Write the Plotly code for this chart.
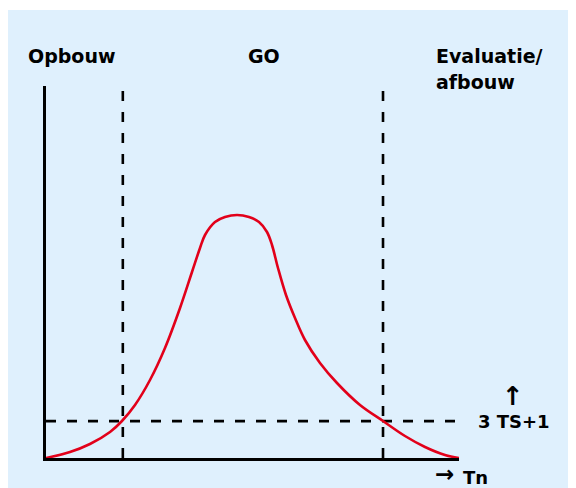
import plotly.graph_objects as go

# ---- data ----
time_x = [0, 5.81, 10.65, 15.50, 18.40, 21.55, 25.18, 28.81, 32.45, 35.35, 37.29, 38.50,
          40.92, 43.34, 46.25, 49.15, 51.57, 53.51, 54.72, 56.17, 58.11, 60.29, 62.71,
          66.34, 70.46, 76.03, 81.60, 86.92, 91.77, 96.61, 100]
intensity_y = [0, 1.61, 3.76, 6.99, 9.95, 14.25, 20.97, 29.57, 40.32, 50.00, 56.45, 59.95,
               63.44, 64.78, 65.32, 64.78, 63.44, 60.75, 57.26, 51.08, 43.82, 37.63, 31.72,
               25.54, 20.16, 14.25, 9.95, 5.91, 2.96, 0.81, 0]
phase_bounds = [18.6, 81.6]
threshold = 9.9
phase_labels = ["Opbouw", "GO", "Evaluatie/", "afbouw"]
threshold_label = "3 TS+1"
x_label = "Tn"

OFF = 8  # page body margin
W, H = 576 - OFF, 488 - OFF
L, R, T, B = 46 - OFF, 459 - OFF, 86 - OFF, 458 - OFF  # plot area in figure px

def px(x):
    return (x - OFF - L) / (R - L)

def py(y):
    return (B - (y - OFF)) / (B - T)

fig = go.Figure()

dash = dict(color="black", width=2.6, dash="10px,11px")
for xb in phase_bounds:
    fig.add_trace(go.Scatter(x=[xb, xb], y=[0, 100], mode="lines", line=dash,
                             hoverinfo="skip", showlegend=False))
fig.add_trace(go.Scatter(x=[0, 100], y=[threshold, threshold], mode="lines", line=dash,
                         hoverinfo="skip", showlegend=False))
fig.add_trace(go.Scatter(x=time_x, y=intensity_y, mode="lines",
                         line=dict(color="#e2001a", width=2.6, shape="spline", smoothing=1.0),
                         hoverinfo="skip", showlegend=False))

ann = []
def add_text(text, x, y, xanchor="left", size=19):
    ann.append(dict(text="<b>%s</b>" % text, x=px(x), y=py(y), xref="paper", yref="paper",
                    xanchor=xanchor, yanchor="middle", showarrow=False,
                    font=dict(family="DejaVu Sans", size=size, color="black")))

add_text(phase_labels[0], 26, 56)
add_text(phase_labels[1], 264, 56, xanchor="center")
add_text(phase_labels[2], 434, 56)
add_text(phase_labels[3], 434, 82)
add_text("↑", 513, 396, xanchor="center", size=26)
add_text(threshold_label, 476, 421, size=18)
add_text("→", 444, 474, xanchor="center", size=23)
add_text(x_label, 461, 477, size=18)

fig.update_layout(
    width=W, height=H,
    margin=dict(l=L, r=W - R, t=T, b=H - B, pad=0),
    paper_bgcolor="white",
    plot_bgcolor="rgba(0,0,0,0)",
    annotations=ann,
    shapes=[dict(type="rect", xref="paper", yref="paper",
                 x0=px(7), x1=px(600), y0=py(520), y1=py(10),
                 fillcolor="#dff0fd", line=dict(width=0), layer="below")],
    xaxis=dict(range=[0, 100], showline=True, linecolor="black", linewidth=3,
               showgrid=False, zeroline=False, showticklabels=False, ticks="",
               fixedrange=True),
    yaxis=dict(range=[0, 100], showline=True, linecolor="black", linewidth=3,
               showgrid=False, zeroline=False, showticklabels=False, ticks="",
               fixedrange=True),
)

fig.write_html("out.html", config={"displayModeBar": False})
